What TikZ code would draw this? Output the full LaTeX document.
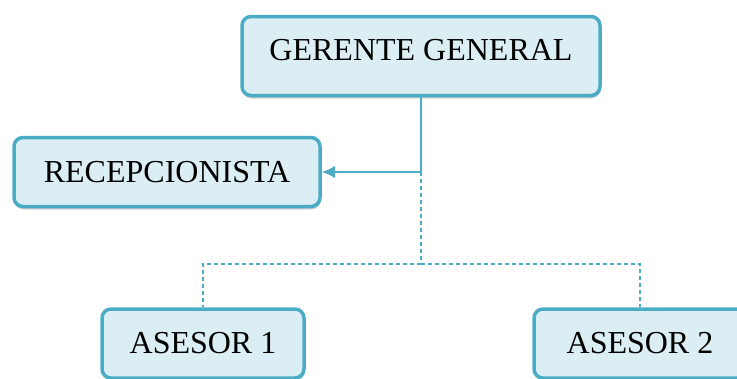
\documentclass[tikz,border=0pt]{standalone}
\usepackage{fontspec}
\setmainfont{Liberation Serif}
\usetikzlibrary{arrows.meta,shadows}
\definecolor{borde}{HTML}{4BACC6}
\definecolor{relleno}{HTML}{DAEEF3}

\begin{document}
\begin{tikzpicture}
	[x=1pt,y=-1pt,
	cargo/.style={draw=borde,line width=3.5pt,fill=relleno,rounded corners=9pt,inner sep=0pt,minimum height=69pt,font=\fontsize{32}{32}\selectfont,drop shadow={shadow xshift=0.5pt,shadow yshift=-3pt,opacity=0.3,fill=black!60}},
	linea/.style={draw=borde,line width=1.5pt},
	punteada/.style={linea,dash pattern=on 4pt off 3pt}]

	\clip (0,0) rectangle (737,378);

	\node[cargo,minimum width=358pt,minimum height=79pt,text depth=12pt] (gerente) at (421,56) {GERENTE GENERAL};
	\node[cargo,minimum width=306pt] (recep) at (167,172) {RECEPCIONISTA};
	\node[cargo,minimum width=202pt] (asesor1) at (203,343.5) {ASESOR 1};
	\node[cargo,minimum width=212pt] (asesor2) at (640,343.5) {ASESOR 2};

	\coordinate (rama) at (gerente.south |- recep.east);
	\coordinate (bus) at (421,264);

	\draw[linea] (gerente.south) -- (rama);
	\draw[linea,-{Latex[length=13pt,width=12pt]}] (rama) -- (recep.east);
	\draw[punteada] (rama) -- (bus);
	\draw[punteada] (bus) -| (asesor1.north);
	\draw[punteada] (bus) -| (asesor2.north);
\end{tikzpicture}
\end{document}
